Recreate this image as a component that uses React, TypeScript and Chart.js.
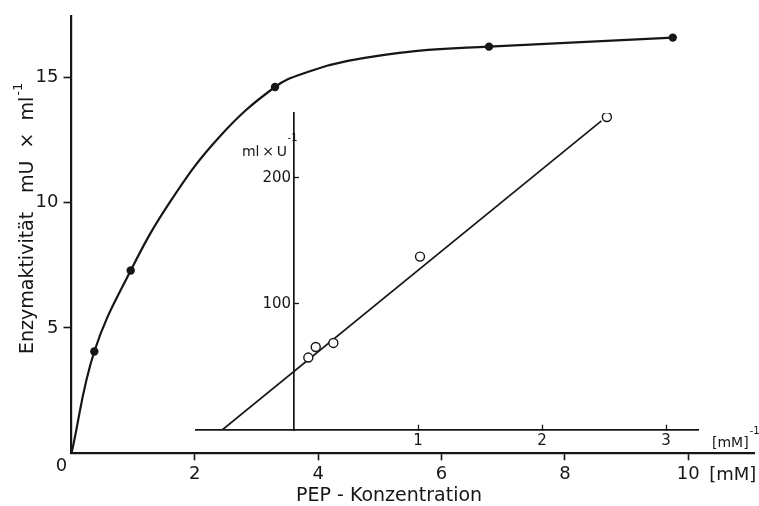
import React, { useEffect, useRef } from 'react';
import { Chart, registerables } from 'chart.js';

Chart.register(...registerables);

// ---- Main plot: enzyme activity vs PEP concentration ----
const pepMeasuredX = [0.37, 0.96, 3.3, 6.77, 9.75];
const activityMeasuredY = [4.06, 7.29, 14.61, 16.22, 16.58];
// hand-drawn saturation curve
const curveX = [0, 0.37, 0.96, 1.59, 2.39, 3.3, 3.84, 4.48, 5.61, 6.77, 9.75];
const curveY = [0, 4.06, 7.29, 10.0, 12.6, 14.61, 15.22, 15.65, 16.05, 16.22, 16.58];
const mainXTicks = [0, 2, 4, 6, 8, 10];
const mainYTicks = [0, 5, 10, 15];

// ---- Inset: Lineweaver-Burk ----
const inverseSubstrateX = [0.115, 0.175, 0.317, 1.016, 2.523];
const inverseActivityY = [57.4, 65.8, 69.0, 137.4, 248];
const fitLineX = [-0.58, 2.479];
const fitLineY = [0, 244.9];
const insetXTicks = [1, 2, 3];
const insetYTicks = [100, 200];

const FONT = "'DejaVu Sans', 'Liberation Sans', sans-serif";
const INK = '#161616';

const mainTextPlugin = {
  id: 'mainText',
  afterDraw(chart: any) {
    const { ctx, scales } = chart;
    const xs = scales.x;
    const ys = scales.y;
    const x0 = xs.getPixelForValue(0);
    const y0 = ys.getPixelForValue(0);
    ctx.save();
    ctx.fillStyle = INK;
    // shared origin label
    ctx.font = `18px ${FONT}`;
    ctx.textAlign = 'center';
    ctx.textBaseline = 'middle';
    ctx.fillText('0', x0 - 10, y0 + 13);
    // unit of x axis
    ctx.textAlign = 'left';
    ctx.textBaseline = 'alphabetic';
    ctx.fillText('[mM]', xs.getPixelForValue(10) + 21, y0 + 27);
    // x axis title
    ctx.font = `19px ${FONT}`;
    ctx.textAlign = 'center';
    ctx.fillText('PEP - Konzentration', xs.getPixelForValue(5.15), y0 + 48);
    // y axis title (rotated)
    ctx.translate(33, 354);
    ctx.rotate(-Math.PI / 2);
    ctx.textAlign = 'left';
    ctx.fillText('Enzymaktivität', 0, 0);
    const unit = 'mU  ×  ml';
    ctx.fillText(unit, 161, 0);
    const w = ctx.measureText(unit).width;
    ctx.font = `13px ${FONT}`;
    ctx.fillText('-1', 161 + w + 1, -11);
    ctx.restore();
  },
};

const insetTextPlugin = {
  id: 'insetText',
  afterDraw(chart: any) {
    const { ctx, scales } = chart;
    const xs = scales.x;
    const ys = scales.y;
    const ax = xs.getPixelForValue(0);
    const y0 = ys.getPixelForValue(0);
    ctx.save();
    ctx.fillStyle = INK;
    ctx.textBaseline = 'alphabetic';
    // y unit label
    const by = ys.getPixelForValue(217);
    ctx.font = `14px ${FONT}`;
    ctx.textAlign = 'right';
    ctx.fillText('ml\u2009×\u2009U', ax - 7, by);
    ctx.font = `10px ${FONT}`;
    ctx.textAlign = 'left';
    ctx.fillText('-1', ax - 6.5, by - 15);
    // x unit label
    const ux = xs.getPixelForValue(xs.max) + 14;
    ctx.font = `14px ${FONT}`;
    ctx.fillText('[mM]', ux, y0 + 17);
    const uw = ctx.measureText('[mM]').width;
    ctx.font = `10px ${FONT}`;
    ctx.fillText('-1', ux + uw + 1, y0 + 4);
    ctx.restore();
  },
};

export default function App() {
  const mainRef = useRef<HTMLCanvasElement>(null);
  const insetRef = useRef<HTMLCanvasElement>(null);

  useEffect(() => {
    if (!mainRef.current || !insetRef.current) return;

    const measured = pepMeasuredX.map((x, i) => ({ x, y: activityMeasuredY[i] }));
    const curve = curveX.map((x, i) => ({ x, y: curveY[i] }));

    const main = new Chart(mainRef.current, {
      type: 'scatter',
      data: {
        datasets: [
          {
            type: 'scatter',
            data: measured,
            pointRadius: 4.2,
            pointBackgroundColor: INK,
            pointBorderColor: INK,
            pointBorderWidth: 0,
            showLine: false,
          } as any,
          {
            type: 'line',
            data: curve,
            borderColor: INK,
            borderWidth: 2.2,
            pointRadius: 0,
            tension: 0.4,
            fill: false,
          } as any,
        ],
      },
      options: {
        responsive: false,
        animation: false,
        events: [],
        layout: { padding: { top: 12, right: 0, left: 0, bottom: 0 } },
        plugins: { legend: { display: false }, tooltip: { enabled: false } },
        scales: {
          x: {
            type: 'linear',
            min: 0,
            max: 11.08,
            grid: {
              drawOnChartArea: false,
              drawTicks: true,
              tickLength: 7,
              tickWidth: 1.6,
              tickColor: (c: any) => (c.tick && c.tick.value === 0 ? 'rgba(0,0,0,0)' : INK),
            },
            border: { display: true, color: INK, width: 2.2 },
            ticks: {
              padding: 3,
              color: INK,
              font: { family: FONT, size: 18 },
              maxRotation: 0,
              autoSkip: false,
              callback: (v: any) => (v === 0 ? '' : String(v)),
            },
            afterBuildTicks: (s: any) => {
              s.ticks = mainXTicks.map((v) => ({ value: v }));
            },
            afterFit: (s: any) => {
              s.height = 52.7;
            },
          },
          y: {
            type: 'linear',
            min: 0,
            max: 17.45,
            grid: {
              drawOnChartArea: false,
              drawTicks: true,
              tickLength: 8,
              tickWidth: 1.6,
              tickColor: (c: any) => (c.tick && c.tick.value === 0 ? 'rgba(0,0,0,0)' : INK),
            },
            border: { display: true, color: INK, width: 2.2 },
            ticks: {
              padding: 5,
              color: INK,
              font: { family: FONT, size: 18 },
              autoSkip: false,
              callback: (v: any) => (v === 0 ? '' : String(v)),
            },
            afterBuildTicks: (s: any) => {
              s.ticks = mainYTicks.map((v) => ({ value: v }));
            },
            afterFit: (s: any) => {
              s.width = 71.5;
            },
          },
        },
      },
      plugins: [mainTextPlugin],
    });

    const circles = inverseSubstrateX.map((x, i) => ({ x, y: inverseActivityY[i] }));
    const fit = fitLineX.map((x, i) => ({ x, y: fitLineY[i] }));

    const inset = new Chart(insetRef.current, {
      type: 'scatter',
      data: {
        datasets: [
          {
            type: 'scatter',
            data: circles,
            pointRadius: 4.5,
            pointBackgroundColor: '#ffffff',
            pointBorderColor: INK,
            pointBorderWidth: 1.4,
            showLine: false,
          } as any,
          {
            type: 'line',
            data: fit,
            borderColor: INK,
            borderWidth: 1.7,
            pointRadius: 0,
            fill: false,
          } as any,
        ],
      },
      options: {
        responsive: false,
        animation: false,
        events: [],
        layout: { padding: { top: 12, right: 61, left: 15.6, bottom: 30 } },
        plugins: { legend: { display: false }, tooltip: { enabled: false } },
        scales: {
          x: {
            type: 'linear',
            min: -0.794,
            max: 3.258,
            position: { y: 0 } as any,
            grid: { drawOnChartArea: false, drawTicks: true, tickLength: -6, tickWidth: 1.3, tickColor: INK },
            border: { display: true, color: INK, width: 1.7 },
            ticks: {
              padding: 8,
              color: INK,
              font: { family: FONT, size: 15 },
              maxRotation: 0,
              autoSkip: false,
            },
            afterBuildTicks: (s: any) => {
              s.ticks = insetXTicks.map((v) => ({ value: v }));
            },
          },
          y: {
            type: 'linear',
            min: 0,
            max: 251.2,
            position: { x: 0 } as any,
            grid: { drawOnChartArea: false, drawTicks: true, tickLength: -6, tickWidth: 1.3, tickColor: INK },
            border: { display: true, color: INK, width: 1.7 },
            ticks: {
              padding: 4,
              color: INK,
              font: { family: FONT, size: 15 },
              autoSkip: false,
              callback: (v: any) => String(v) + '\u2009',
            },
            afterBuildTicks: (s: any) => {
              s.ticks = insetYTicks.map((v) => ({ value: v }));
            },
          },
        },
      },
      plugins: [insetTextPlugin],
    });

    return () => {
      main.destroy();
      inset.destroy();
    };
  }, []);

  return (
    <div style={{ position: 'fixed', left: 0, top: 0, width: 759, height: 506, background: '#ffffff' }}>
      <canvas ref={mainRef} width={759} height={506} style={{ position: 'absolute', left: 0, top: 0 }} />
      <canvas ref={insetRef} width={579} height={360} style={{ position: 'absolute', left: 180, top: 100 }} />
    </div>
  );
}
